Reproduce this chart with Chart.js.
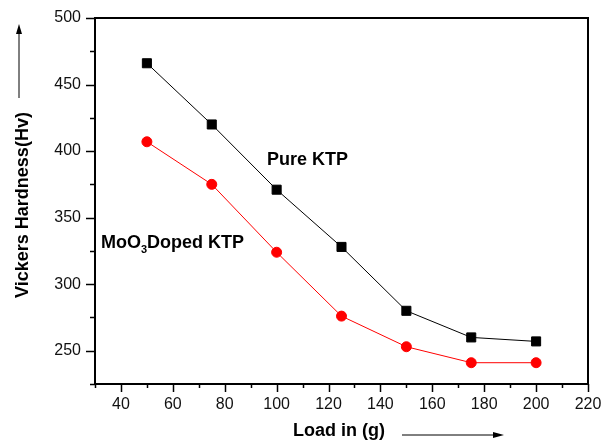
<!DOCTYPE html>
<html><head><meta charset="utf-8">
<script src="https://cdn.jsdelivr.net/npm/chart.js@4.4.0/dist/chart.umd.min.js"></script>
<style>html,body{margin:0;padding:0;background:#fff}#wrap{width:602px;height:441px}</style>
</head><body><div id="wrap"><canvas id="c" width="602" height="441"></canvas></div>
<script>
const loads = [50, 75, 100, 125, 150, 175, 200];
const pureKTP = [466, 420, 371, 328, 280, 260, 257];
const dopedKTP = [407, 375, 324, 276, 253, 241, 241];
const xMajorTicks = [40, 60, 80, 100, 120, 140, 160, 180, 200, 220];
const yMajorTicks = [250, 300, 350, 400, 450, 500];
const FONT = "'Liberation Sans', Arial, sans-serif";

const decor = {
  id: 'decor',
  afterDraw(chart) {
    const ctx = chart.ctx, a = chart.chartArea;
    const xs = chart.scales.x, ys = chart.scales.y;
    ctx.save();
    ctx.strokeStyle = '#000';
    ctx.lineWidth = 2;
    ctx.strokeRect(a.left, a.top, a.right - a.left, a.bottom - a.top);
    ctx.lineWidth = 1.5;
    for (let v = 225; v <= 500; v += 25) {
      const y = Math.round(ys.getPixelForValue(v)) + 0.5;
      const len = (v % 50 === 0) ? 9 : 5;
      ctx.beginPath(); ctx.moveTo(a.left - len, y); ctx.lineTo(a.left, y); ctx.stroke();
    }
    for (let v = 30; v <= 220; v += 10) {
      const x = Math.round(xs.getPixelForValue(v)) + 0.5;
      const len = (v % 20 === 0) ? 8 : 4;
      ctx.beginPath(); ctx.moveTo(x, a.bottom); ctx.lineTo(x, a.bottom + len); ctx.stroke();
    }
    ctx.fillStyle = '#000';
    ctx.font = 'bold 18px ' + FONT;
    ctx.textAlign = 'left'; ctx.textBaseline = 'alphabetic';
    ctx.fillText('Load in (g)', 293, 436);
    ctx.save();
    ctx.translate(28, 205);
    ctx.rotate(-Math.PI / 2);
    ctx.textAlign = 'center';
    ctx.fillText('Vickers Hardness(Hv)', 0, 0);
    ctx.restore();
    ctx.lineWidth = 1;
    ctx.beginPath(); ctx.moveTo(402, 435); ctx.lineTo(496, 435); ctx.stroke();
    ctx.beginPath(); ctx.moveTo(504, 435); ctx.lineTo(493, 432); ctx.lineTo(493, 438); ctx.closePath(); ctx.fill();
    ctx.beginPath(); ctx.moveTo(19, 98); ctx.lineTo(19, 32); ctx.stroke();
    ctx.beginPath(); ctx.moveTo(19, 24); ctx.lineTo(16, 34); ctx.lineTo(22, 34); ctx.closePath(); ctx.fill();
    ctx.font = 'bold 18px ' + FONT;
    ctx.textAlign = 'left';
    ctx.fillText('Pure KTP', 267, 165);
    let x = 101;
    ctx.fillText('MoO', x, 248);
    x += ctx.measureText('MoO').width;
    ctx.font = 'bold 11px ' + FONT;
    ctx.fillText('3', x, 253);
    x += ctx.measureText('3').width;
    ctx.font = 'bold 18px ' + FONT;
    ctx.fillText('Doped KTP', x, 248);
    ctx.restore();
  }
};

new Chart(document.getElementById('c'), {
  type: 'line',
  data: {
    datasets: [
      {
        label: 'Pure KTP',
        data: loads.map((l, i) => ({ x: l, y: pureKTP[i] })),
        borderColor: '#000', backgroundColor: '#000', borderWidth: 1,
        pointStyle: 'rect', pointRadius: 6.4, pointHoverRadius: 6.4, tension: 0
      },
      {
        label: 'MoO3 Doped KTP',
        data: loads.map((l, i) => ({ x: l, y: dopedKTP[i] })),
        borderColor: '#ff0000', backgroundColor: '#ff0000', borderWidth: 1,
        pointStyle: 'circle', pointRadius: 5, pointHoverRadius: 5, tension: 0
      }
    ]
  },
  options: {
    responsive: false, animation: false,
    layout: { padding: { top: 18, right: 14, left: 0, bottom: 0 } },
    plugins: { legend: { display: false }, tooltip: { enabled: false } },
    scales: {
      x: {
        type: 'linear', min: 30, max: 220,
        grid: { display: false, drawTicks: false }, border: { display: false },
        ticks: {
          stepSize: 10, autoSkip: false, maxRotation: 0, padding: 11,
          color: '#111', font: { family: FONT, size: 16 },
          callback: v => (xMajorTicks.includes(v) ? String(v) : '')
        },
        afterFit: s => { s.height = 57; s.paddingLeft = 0; s.paddingRight = 0; }
      },
      y: {
        min: 225, max: 500,
        grid: { display: false, drawTicks: false }, border: { display: false },
        ticks: {
          stepSize: 25, autoSkip: false, padding: 14,
          color: '#111', font: { family: FONT, size: 16 },
          callback: v => (yMajorTicks.includes(v) ? String(v) : '')
        },
        afterFit: s => { s.width = 95; s.paddingTop = 0; s.paddingBottom = 0; }
      }
    }
  },
  plugins: [decor]
});
</script>
</body></html>
